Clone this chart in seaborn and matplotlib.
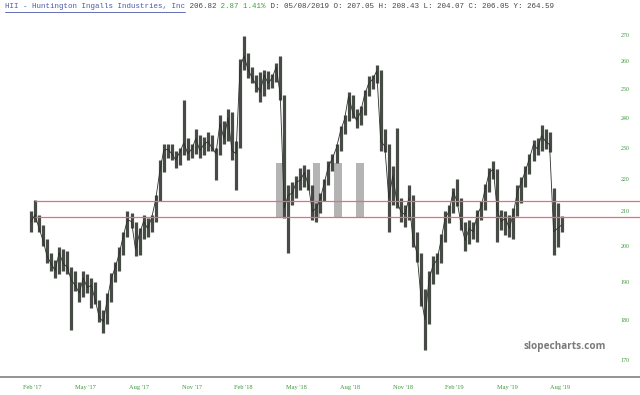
import matplotlib
matplotlib.use("Agg")
import matplotlib.pyplot as plt
import seaborn as sns
import pandas as pd
from matplotlib.patches import Rectangle
from matplotlib.lines import Line2D
from matplotlib.ticker import FixedLocator, FixedFormatter, NullLocator

# ---- data (weekly bars) ----
week_high = [210, 213.5, 209, 206, 202, 198, 196, 199.5, 199, 198.5,
             194, 193, 190, 193, 192, 191, 190, 185, 182.5, 187,
             192.5, 195.5, 199.5, 204, 210, 209.5, 207, 205, 209, 208,
             209, 215, 226, 231, 231, 231, 229, 230, 246, 233,
             231, 236, 234, 233.5, 235, 234, 230, 241, 239, 243,
             242, 232, 261, 269.5, 263, 258, 255, 256, 257, 256.5,
             255.5, 259.5, 262, 248, 218, 219, 221, 223.5, 224.5, 223,
             218, 212.5, 215.5, 220, 225.5, 228, 231, 237, 241, 249,
             248, 243, 244, 249.5, 254.5, 255, 258.5, 257, 236, 231,
             224, 236.5, 214, 212, 218, 215, 204, 198, 188, 193,
             197, 198, 203.5, 210, 212, 217, 220, 214, 207, 207.5,
             207, 210.5, 213, 218.5, 223.5, 225.5, 223, 210.5, 210, 209,
             211, 218, 220.5, 224, 228, 232.5, 233, 237.5, 236, 235,
             217, 212.5, 208.5]
week_low = [204, 207, 204, 200, 195, 193, 191, 192, 193, 192,
            177.5, 187.5, 184.5, 186, 187, 183, 184, 179.5, 176.5, 179,
            184.5, 190, 193, 197.5, 202.5, 205, 197, 197.5, 202, 202.5,
            204, 207, 213, 222, 226.5, 226, 223.5, 224.5, 227.5, 226,
            226.5, 228, 226.5, 227.5, 229, 229, 219.5, 227.5, 231, 232,
            226, 216.5, 230, 257, 254, 252, 249, 245.5, 247.5, 250,
            250.5, 252.5, 246, 208, 198, 212, 214, 216.5, 217.5, 216.5,
            207.5, 207, 209.5, 213, 218, 222.5, 225, 229, 234.5, 239,
            240, 236.5, 237.5, 241, 247.5, 250, 252, 229, 228.5, 204,
            212, 211, 207, 205.5, 207.5, 199.5, 195.5, 183.5, 172.5, 179,
            189.5, 192, 195, 201, 206.5, 209.5, 211.5, 204.5, 198.5, 200.5,
            202, 201, 207.5, 210.5, 216, 220, 201, 204.5, 203, 202.5,
            202, 208.5, 212.5, 217.5, 221.5, 225.5, 227.5, 229, 229.5, 228.5,
            197.5, 199.5, 204]
week_close = [207, 209, 205, 201.5, 197, 195, 193, 198, 195, 194,
              190.5, 189, 187, 191, 188.5, 189, 185, 180.5, 179.5, 185.5,
              191, 194, 198, 203, 207.5, 207, 199, 203.5, 207, 205,
              208, 213.5, 222, 229, 229.5, 228, 226, 228.5, 231.5, 228,
              229.5, 233, 229, 231, 232, 230, 228, 238, 233, 240,
              229, 228, 258, 262, 257, 254, 251.5, 249, 255, 252,
              254, 258, 248, 211, 215, 215.5, 219, 219.5, 222, 218,
              210, 211, 214, 219, 224, 226.5, 230, 235.5, 239.5, 247.5,
              242, 239, 242, 248, 252, 253.5, 256.5, 232, 230.5, 214,
              221, 213, 210, 209, 214, 202, 198, 186, 180, 190.5,
              194.5, 196, 201.5, 208, 210, 216, 213, 206, 201.5, 205,
              204, 209, 211.5, 217, 222, 223, 210, 207, 208, 205,
              209.5, 216, 219, 222.5, 226.5, 231, 229.5, 234, 232, 231,
              204, 205, 206]
month_labels = ["Feb '17", "May '17", "Aug '17", "Nov '17", "Feb '18", "May '18",
                "Aug '18", "Nov '18", "Feb '19", "May '19", "Aug '19"]
price_ticks = [170, 180, 190, 200, 210, 220, 230, 240, 250, 260, 270]
levels = [213.0, 208.2]

df = pd.DataFrame({"week": range(len(week_close)), "high": week_high,
                   "low": week_low, "close": week_close})

sns.set_style("white")
W, H = 640, 395
fig = plt.figure(figsize=(W / 100, H / 100), dpi=100)
ax = fig.add_axes([0, (H - 377) / H, 1, (377 - 20) / H])

# logo watermark bars (behind data)
for x0 in (275.7, 312.5, 334.3, 356.0):
    fig.add_artist(Rectangle((x0 / W, (H - 218.3) / H), 7.5 / W, 55.6 / H,
                             transform=fig.transFigure, color="#b4b4b4",
                             lw=0, zorder=0.5))
ax.set_zorder(1)
ax.patch.set_alpha(0)

bar_color = "#363c36"
ax.vlines(df["week"], df["low"], df["high"], color=bar_color, lw=2.3,
          alpha=0.92, zorder=3)
sns.lineplot(data=df, x="week", y="close", ax=ax, color="#2a2f2a", lw=0.6,
             zorder=3)

xl = (-31 / 4.02, (W - 31) / 4.02)
for lv in levels:
    ax.hlines(lv, 1, xl[1], color="#e0707c", lw=0.9, zorder=4)

ax.set_yscale("log")
ax.set_ylim(165.9, 275.8)
ax.set_xlim(*xl)

ax.yaxis.set_major_locator(FixedLocator(price_ticks))
ax.yaxis.set_major_formatter(FixedFormatter([str(t) for t in price_ticks]))
ax.yaxis.set_minor_locator(NullLocator())
ax.yaxis.tick_right()
ax.tick_params(axis="y", length=0, pad=-14, labelsize=4.3,
               labelcolor="#3c9a3c")
for lab in ax.get_yticklabels():
    lab.set_family("Liberation Serif")

tick_pos = [0.3, 13.6, 26.8, 40.0, 52.8, 66.1, 79.4, 92.5, 105.3, 118.5, 131.6]
ax.set_xticks(tick_pos)
ax.set_xticklabels(month_labels)
ax.tick_params(axis="x", length=0, pad=6, labelsize=4.6, labelcolor="#3c9a3c")
for lab in ax.get_xticklabels():
    lab.set_family("Liberation Serif")

ax.set_xlabel("")
ax.set_ylabel("")
for s in ("top", "left", "right"):
    ax.spines[s].set_visible(False)
ax.spines["bottom"].set_color("#8a8a8a")
ax.spines["bottom"].set_linewidth(1.3)

# header line (monospace pieces)
fs = 5.4
cw = 0.6 * fs * 100 / 72
pieces = [("HII - Huntington Ingalls Industries, Inc", "#4a58a8"),
          (" 206.82", "#444444"),
          (" 2.87 1.41%", "#3ca03c"),
          (" D: 05/08/2019 O: 207.05 H: 208.43 L: 204.07 C: 206.05 Y: 264.59", "#444444")]
x = 5
for txt, col in pieces:
    fig.text(x / W, 1 - 6.5 / H, txt, family="Liberation Mono", fontsize=fs,
             color=col, va="center", ha="left")
    x += len(txt) * cw
fig.add_artist(Line2D([5 / W, (5 + 40 * cw) / W], [1 - 12 / H, 1 - 12 / H],
                      transform=fig.transFigure, color="#4a58a8", lw=0.6))

fig.text(565 / W, 1 - 346.5 / H, "slopecharts.com", family="Open Sans",
         fontweight="bold", fontsize=7.2, color="#7a7a7a", ha="center",
         va="center")

fig.savefig("out.png", dpi=100)
